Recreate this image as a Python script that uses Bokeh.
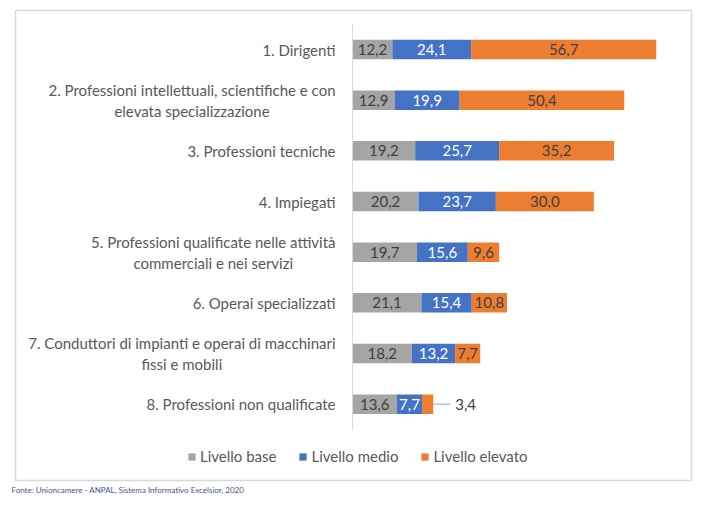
from bokeh.plotting import figure
from bokeh.models import Range1d, Legend, LegendItem, Title, ColumnDataSource
from bokeh.core.properties import value
from bokeh.embed import file_html
from bokeh.resources import INLINE

categories = [
    "1. Dirigenti",
    "2. Professioni intellettuali, scientifiche e con\nelevata specializzazione",
    "3. Professioni tecniche",
    "4. Impiegati",
    "5. Professioni qualificate nelle attività\ncommerciali e nei servizi",
    "6. Operai specializzati",
    "7. Conduttori di impianti e operai di macchinari\nfissi e mobili",
    "8. Professioni non qualificate",
]
livello_base = [12.2, 12.9, 19.2, 20.2, 19.7, 21.1, 18.2, 13.6]
livello_medio = [24.1, 19.9, 25.7, 23.7, 15.6, 15.4, 13.2, 7.7]
livello_elevato = [56.7, 50.4, 35.2, 30.0, 9.6, 10.8, 7.7, 3.4]
series_names = ["Livello base", "Livello medio", "Livello elevato"]
source_note = "Fonte: Unioncamere - ANPAL, Sistema Informativo Excelsior, 2020"

colors = ["#A5A5A5", "#4472C4", "#ED7D31"]
label_colors = ["#404040", "#FFFFFF", "#404040"]
FONT = "Lato"

n = len(categories)
rows = list(range(n))

p = figure(
    frame_width=676, frame_height=470,
    min_border_left=15, min_border_right=8, min_border_top=10, min_border_bottom=20,
    x_range=Range1d(-103.2, 103.8), y_range=Range1d(8.506, -0.770),
    x_axis_location=None, y_axis_location=None,
    toolbar_location=None, output_backend="svg",
)
p.xgrid.visible = False
p.ygrid.visible = False
p.outline_line_color = "#D9D9D9"
p.outline_line_width = 1.5
p.background_fill_color = "white"
p.border_fill_color = "white"

fmt = lambda v: f"{v:.1f}".replace(".", ",")

series = [livello_base, livello_medio, livello_elevato]
left = [0.0] * n
renderers = []
for k, vals in enumerate(series):
    right = [l + v for l, v in zip(left, vals)]
    src = ColumnDataSource(dict(y=rows, left=left, right=right))
    r = p.hbar(y="y", left="left", right="right", height=0.385, source=src,
               fill_color=colors[k], line_color=None)
    renderers.append(r)
    inside = [i for i, v in enumerate(vals) if v >= 5]
    outside = [i for i, v in enumerate(vals) if v < 5]
    p.text(x=[(left[i] + right[i]) / 2 for i in inside], y=[rows[i] for i in inside],
           text=[fmt(vals[i]) for i in inside], text_align="center", text_baseline="middle",
           text_font=value(FONT), text_font_size="15px", text_color=label_colors[k])
    if outside:
        xs = [right[i] for i in outside]
        ys = [rows[i] for i in outside]
        p.segment(x0=[x + 0.5 / 3.266 for x in xs], y0=ys, x1=[x + 17 / 3.266 for x in xs], y1=ys,
                  line_color="#A6A6A6", line_width=1)
        p.text(x=xs, y=ys, text=[fmt(vals[i]) for i in outside], x_offset=22,
               text_align="left", text_baseline="middle",
               text_font=value(FONT), text_font_size="15px", text_color="#404040")
    left = right

# category axis line
p.segment(x0=[0], y0=[-0.5], x1=[0], y1=[n - 0.5], line_color="#D9D9D9", line_width=1)

# category labels
p.text(x=[0] * n, y=rows, text=categories, x_offset=-17,
       anchor="center_right", text_align="center", text_baseline="middle",
       text_line_height=1.16,
       text_font=value(FONT), text_font_size="15px", text_color="#595959")

legend = Legend(
    items=[LegendItem(label=series_names[k], renderers=[renderers[k]]) for k in range(3)],
    orientation="horizontal", location=(172, 15),
    padding=0, margin=0, spacing=22, label_standoff=4,
    glyph_width=9, glyph_height=9, label_height=16,
    border_line_alpha=0, background_fill_alpha=0,
    label_text_font=FONT, label_text_font_size="15px", label_text_color="#595959",
)
p.add_layout(legend, "center")

p.add_layout(Title(text=source_note, align="left", text_font="Lato",
                   text_font_size="8px", text_color="#44549A", text_font_style="normal",
                   offset=-4, standoff=4), "below")

open("out.html", "w").write(file_html(p, INLINE))
